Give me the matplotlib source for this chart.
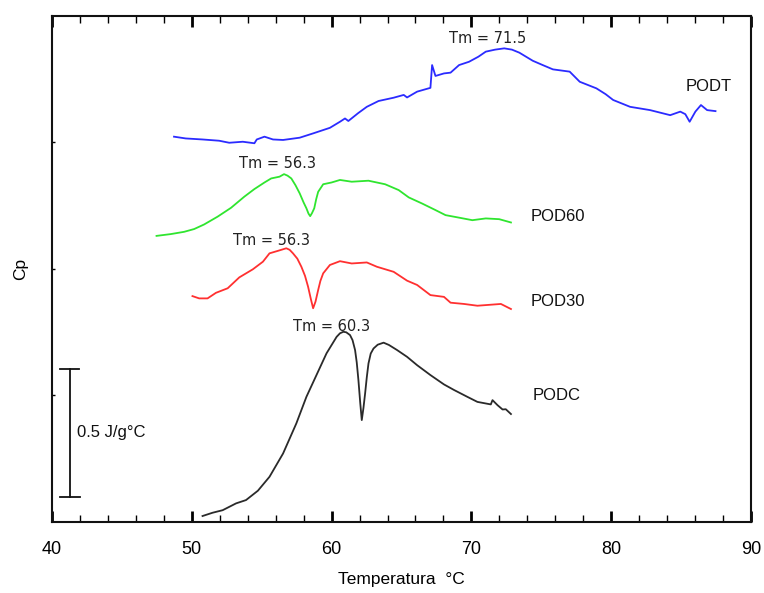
import matplotlib
matplotlib.use("Agg")
import matplotlib.pyplot as plt
from matplotlib.ticker import MultipleLocator

# DSC thermograms (Cp, curves offset vertically)
podt_t = [48.73, 49.57, 50.77, 51.96, 52.68, 53.65, 54.48, 54.65, 55.20, 55.81, 56.53,
          57.72, 58.68, 59.88, 60.60, 60.96, 61.20, 61.90, 62.52, 63.36, 64.44, 65.16, 65.40,
          66.12, 67.07, 67.19, 67.43, 68.04, 68.51, 69.12, 69.83, 70.50, 71.03, 71.70, 72.35,
          72.90, 73.43, 74.39, 75.10, 75.83, 77.03, 77.75, 78.94, 79.60, 80.14, 81.35, 82.78,
          84.22, 84.94, 85.30, 85.61, 86.02, 86.42, 86.86, 87.46]
podt_cp = [1.522, 1.515, 1.511, 1.506, 1.498, 1.502, 1.496, 1.511, 1.522, 1.511, 1.509,
           1.518, 1.535, 1.557, 1.581, 1.594, 1.584, 1.615, 1.640, 1.663, 1.676, 1.687, 1.677,
           1.700, 1.715, 1.805, 1.762, 1.772, 1.775, 1.805, 1.818, 1.838, 1.858, 1.866, 1.871,
           1.866, 1.854, 1.822, 1.805, 1.788, 1.779, 1.739, 1.713, 1.690, 1.667, 1.640, 1.627,
           1.607, 1.621, 1.611, 1.581, 1.621, 1.647, 1.627, 1.623]

pod60_t = [47.48, 48.49, 49.45, 50.17, 50.88, 51.85, 52.81, 53.76, 54.48, 55.20, 55.68,
           56.28, 56.60, 56.85, 57.12, 57.42, 57.72, 58.00, 58.20, 58.35, 58.47, 58.60,
           58.76, 58.90, 59.04, 59.40, 60.00, 60.60, 61.44, 62.64, 63.83, 64.80, 65.52,
           66.47, 67.43, 68.15, 69.12, 70.07, 71.03, 71.99, 72.83]
pod60_cp = [1.130, 1.137, 1.146, 1.157, 1.175, 1.206, 1.241, 1.285, 1.315, 1.341, 1.357,
            1.364, 1.374, 1.368, 1.357, 1.330, 1.298, 1.262, 1.239, 1.218, 1.208, 1.220,
            1.239, 1.275, 1.304, 1.334, 1.341, 1.351, 1.344, 1.348, 1.334, 1.311, 1.282,
            1.258, 1.232, 1.212, 1.202, 1.192, 1.199, 1.196, 1.183]

pod30_t = [50.05, 50.53, 51.13, 51.73, 52.57, 53.40, 54.37, 55.09, 55.56, 56.17, 56.76,
           57.00, 57.24, 57.55, 57.84, 58.10, 58.32, 58.52, 58.68, 58.85, 59.04, 59.20,
           59.40, 59.88, 60.60, 61.44, 62.52, 63.24, 64.44, 65.40, 66.12, 67.07, 68.04,
           68.51, 69.47, 70.43, 71.15, 72.11, 72.83]
pod30_cp = [0.892, 0.883, 0.883, 0.905, 0.923, 0.966, 0.998, 1.028, 1.061, 1.071, 1.081,
            1.075, 1.061, 1.040, 1.008, 0.972, 0.929, 0.880, 0.844, 0.870, 0.916, 0.952,
            0.982, 1.015, 1.030, 1.021, 1.025, 1.008, 0.988, 0.953, 0.936, 0.896, 0.889,
            0.866, 0.861, 0.854, 0.857, 0.861, 0.841]

podc_t = [50.77, 51.49, 52.21, 53.17, 53.88, 54.73, 55.56, 56.53, 57.48, 58.20, 58.92,
          59.64, 60.36, 60.60, 60.84, 61.05, 61.32, 61.50, 61.68, 61.80, 61.92, 62.05,
          62.16, 62.28, 62.40, 62.52, 62.64, 62.80, 63.00, 63.30, 63.72, 64.10, 64.68,
          65.40, 66.12, 67.07, 68.04, 68.76, 69.71, 70.43, 71.39, 71.51, 71.87, 72.23,
          72.46, 72.83]
podc_cp = [0.023, 0.036, 0.046, 0.073, 0.086, 0.123, 0.178, 0.270, 0.389, 0.494, 0.580,
           0.666, 0.731, 0.745, 0.751, 0.749, 0.738, 0.718, 0.679, 0.630, 0.560, 0.470,
           0.402, 0.450, 0.508, 0.572, 0.626, 0.665, 0.685, 0.700, 0.708, 0.699, 0.679,
           0.652, 0.619, 0.580, 0.543, 0.521, 0.494, 0.474, 0.464, 0.481, 0.461, 0.444,
           0.445, 0.426]

series_names = ["PODT", "POD60", "POD30", "PODC"]
tm_labels = ["Tm = 71.5", "Tm = 56.3", "Tm = 56.3", "Tm = 60.3"]
x_ticks = [40, 50, 60, 70, 80, 90]

colors = ["#2b2bff", "#2fe52f", "#ff3030", "#2a2a2a"]
curves = [(podt_t, podt_cp), (pod60_t, pod60_cp), (pod30_t, pod30_cp), (podc_t, podc_cp)]

fig = plt.figure(figsize=(7.64, 5.93), dpi=100)
ax = fig.add_axes([0.068, 0.120, 0.915, 0.8535])

for (t, cp), c in zip(curves, colors):
    ax.plot(t, cp, color=c, lw=1.3, solid_joinstyle="round")

ax.set_xlim(40, 90)
ax.set_ylim(0, 2.0)

# Peak annotations and series names
tm_pos = [(71.15, 1.91), (56.1, 1.415), (55.7, 1.113), (60.0, 0.773)]
for (x, y), s in zip(tm_pos, tm_labels):
    ax.text(x, y, s, ha="center", va="center", fontsize=10.5,
            family="DejaVu Sans", color="#222222")

name_pos = [(87.0, 1.722), (76.2, 1.208), (76.2, 0.869), (76.1, 0.501)]
for (x, y), s in zip(name_pos, series_names):
    ax.text(x, y, s, ha="center", va="center", fontsize=12,
            family="Liberation Sans", color="#111111")

# Scale bar
ax.plot([41.26, 41.26], [0.10, 0.604], color="#111111", lw=1.3)
ax.plot([40.55, 41.97], [0.604, 0.604], color="#111111", lw=1.3)
ax.plot([40.6, 42.0], [0.10, 0.10], color="#111111", lw=1.3)
ax.text(41.8, 0.354, "0.5 J/g°C", ha="left", va="center", fontsize=12,
        family="Liberation Sans", color="#111111")

# Axes styling
for sp in ax.spines.values():
    sp.set_linewidth(1.5)
    sp.set_color("#111111")

ax.set_xticks(x_ticks)
ax.xaxis.set_minor_locator(MultipleLocator(2))
ax.set_yticks([0.5, 1.0, 1.5])
ax.set_yticklabels([])
ax.tick_params(axis="x", which="major", direction="in", length=8, width=2,
               top=True, labelsize=13, pad=14)
ax.tick_params(axis="x", which="minor", direction="in", length=5, width=1,
               top=True)
ax.tick_params(axis="y", which="major", direction="in", length=2, width=1)
for lab in ax.get_xticklabels():
    lab.set_family("Liberation Sans")

ax.set_xlabel("Temperatura  °C", fontsize=12.5, family="Liberation Sans", labelpad=10)
ax.set_ylabel("Cp", fontsize=12.5, family="Liberation Sans", labelpad=14)

fig.savefig("out.png", dpi=100)
